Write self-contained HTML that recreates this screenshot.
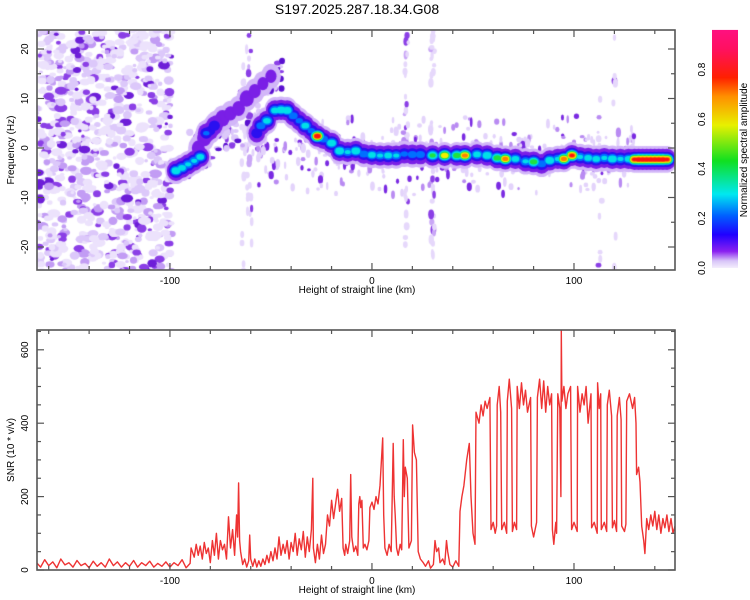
<!DOCTYPE html>
<html><head><meta charset="utf-8"><style>
html,body{margin:0;padding:0;background:#fff;width:750px;height:600px;overflow:hidden}
#wrap{position:relative;width:750px;height:600px;font-family:"Liberation Sans",sans-serif}
canvas{position:absolute}
svg{position:absolute;left:0;top:0}
text{font-family:"Liberation Sans",sans-serif;fill:#000}
</style></head><body>
<div id="wrap">
<canvas id="heat" width="638" height="240" style="left:37px;top:30px"></canvas>
<svg id="svg" width="750" height="600"></svg>
</div>
<script>
// ---------- data ----------
const xTickLabels=[-100,0,100];
const freqTickLabels=[20,10,0,-10,-20];
const snrTickLabels=[0,200,400,600];
const cbTickLabels=[0.0,0.2,0.4,0.6,0.8];
// ridge of spectrogram: km, frequency (Hz), normalized amplitude
const ridgeKm=[-97,-94,-91,-88,-85,-86,-83,-80,-77,-74,-70,-66,-62,-58,-54,-50,-82,-78,-57,-55,-52,-48,-45,-42,-39,-36,-33,-30,-27,-24,-20,-16,-12,-8,-4,0,4,8,12,16,20,24,30,36,42,46,52,57,62,66,71,76,80,84,88,92,95,99,103,107,111,115,119,123,127,130,132,134,136,138,140,142,144,146];
const ridgeFreq=[-4.6,-4.0,-3.3,-2.6,-1.8,0,2,3.5,5,6,7,8,10,11.5,13,14.5,3,4.5,3,4.5,5.5,7.6,7.7,7.6,6.5,5.5,4.5,3.5,2.4,1.8,1.0,-0.6,-0.8,-0.6,-1.2,-1.4,-1.5,-1.5,-1.5,-1.2,-1.3,-1.3,-1.5,-1.5,-1.5,-1.5,-1.3,-1.5,-2.0,-2.2,-2.2,-2.7,-2.8,-3.2,-2.5,-2.2,-2.2,-1.5,-1.8,-2.0,-2.2,-2.0,-2.2,-2.2,-2.2,-2.3,-2.3,-2.3,-2.3,-2.3,-2.3,-2.3,-2.3,-2.3];
const ridgeAmp=[0.5,0.45,0.4,0.4,0.45,0.12,0.15,0.22,0.14,0.15,0.11,0.12,0.15,0.11,0.1,0.1,0.28,0.25,0.25,0.35,0.45,0.45,0.5,0.5,0.35,0.3,0.45,0.3,0.9,0.35,0.5,0.5,0.4,0.5,0.35,0.45,0.4,0.45,0.4,0.3,0.35,0.35,0.55,0.75,0.6,0.8,0.45,0.5,0.6,0.8,0.45,0.4,0.6,0.35,0.5,0.4,0.8,0.85,0.4,0.45,0.45,0.4,0.5,0.4,0.45,0.85,0.88,0.88,0.88,0.88,0.88,0.88,0.88,0.85];
// SNR profile: [km, SNR]
const snrSeries=[[-166,20],[-164,8],[-162,28],[-160,12],[-158,22],[-156,6],[-154,30],[-152,14],[-150,20],[-148,8],[-146,26],[-144,12],[-142,18],[-140,6],[-138,24],[-136,10],[-134,20],[-132,8],[-130,30],[-128,12],[-126,22],[-124,8],[-122,20],[-120,10],[-118,26],[-116,8],[-114,20],[-112,12],[-110,24],[-108,8],[-106,18],[-104,10],[-102,22],[-100,8],[-98,20],[-96,12],[-94,28],[-92,6],[-90,18],
[-89.5,60],[-88,35],[-87,70],[-86,40],[-85,65],[-84,30],[-83,75],[-82,45],[-81,60],[-80,20],[-79,80],[-78,40],[-77,100],[-76,30],[-75,80],[-74,55],[-73,70],[-72,30],[-71,145],[-70,60],[-69,110],[-68,40],[-67,150],[-66.5,90],[-66,237],[-65.5,80],[-65,50],[-64,15],[-63,30],[-62,8],[-61,25],[-60.5,95],[-60,30],[-59,10],[-58,30],[-57,8],[-56,25],[-55,10],[-54,30],[-53,15],[-52,40],[-51,20],[-50,50],[-49,25],[-48,60],[-47,30],[-46,90],[-45,40],[-44,70],[-43,45],[-42,80],[-41,30],[-40,75],[-39,50],[-38,100],[-37,40],[-36,85],[-35,55],[-34,105],[-33,35],[-32,90],[-31,50],[-30,110],[-29.3,250],[-29,60],[-28,20],[-27,70],[-26,30],[-25,95],[-24,45],[-23,70],[-22,150],[-21,120],[-20,190],[-19,140],[-18,180],[-17,220],[-16,160],[-15,195],[-14.3,60],[-13.5,40],[-13,70],[-12,45],[-11,80],[-10.5,260],[-10,90],[-9,50],[-8,65],[-7,40],[-6.5,180],[-6,200],[-5.5,170],[-5,190],[-4.3,60],[-3.5,70],[-2.5,55],[-1.5,80],[-1,170],[0,185],[1,165],[2,200],[3,180],[4,230],[5.3,360],[5.8,150],[6.4,60],[7.5,40],[8.5,70],[9.5,50],[10.5,345],[11,200],[11.5,150],[12.2,60],[13,40],[14,70],[14.7,55],[15.5,355],[16,200],[16.5,280],[17.5,250],[18.3,60],[19.5,80],[20.1,395],[21,320],[22,300],[22.9,50],[24,30],[25.4,20],[26.5,10],[28,25],[29,5],[30.4,15],[31.2,80],[32,50],[33,60],[33.7,20],[35,30],[36,15],[36.9,80],[37.5,50],[38.6,15],[40,8],[41.5,25],[43,10],[43.6,160],[44.5,200],[45.5,230],[46.9,300],[48.2,345],[49,200],[50,100],[51,70],[51.5,430],[53,400],[54,450],[55,420],[56,460],[57,440],[58.4,470],[58.9,110],[60,130],[61,100],[61.7,120],[62,450],[63,500],[63.7,430],[64.2,110],[65.5,130],[66.7,100],[67,460],[68,520],[69.1,440],[69.5,105],[70.5,130],[71.6,110],[71.9,500],[73,440],[74,510],[75,450],[76,490],[77,430],[78.5,470],[78.9,120],[80,90],[81.5,130],[81.9,470],[83,520],[84,440],[85,515],[86,430],[87,500],[88,450],[88.9,480],[89.3,110],[90,70],[91,130],[91.4,100],[92,480],[93,440],[93.5,200],[93.7,654],[94,460],[95,500],[96,440],[97,480],[98.3,500],[98.8,110],[100,130],[101.6,105],[101.8,500],[103,430],[104,480],[105,450],[106,500],[107,400],[108.4,480],[108.7,115],[110,130],[111.5,100],[111.7,510],[112.5,440],[113.2,480],[113.5,110],[115,130],[116.2,105],[116.5,450],[117.5,490],[118.6,420],[119,115],[120,135],[121.1,105],[121.4,420],[122.5,470],[123.3,410],[123.6,120],[125,105],[125.7,125],[126.1,460],[127.5,480],[129,440],[130,470],[130.7,400],[131,260],[132,280],[132.7,240],[133.5,120],[134.5,80],[135.1,45],[136,140],[137,110],[138,150],[139,120],[140,160],[141,110],[142,150],[143,100],[144,140],[145,115],[146,150],[147,105],[148,140],[149,100],[150,120]];

// ---------- scales ----------
const X0=37,X1=675,TY0=30,TY1=270,BY0=330,BY1=570;
const KMIN=-165.8,KMAX=150;
const xs=km=>X0+(km-KMIN)*(X1-X0)/(KMAX-KMIN);
const yF=f=>148-f*4.95;
const yS=v=>BY1-v*0.367;
const yCB=a=>268-a*248;

// ---------- heatmap ----------
const cv=document.getElementById('heat');const ctx=cv.getContext('2d');
let seed=12345;function rnd(){seed|=0;seed=seed+0x6D2B79F5|0;let t=Math.imul(seed^seed>>>15,1|seed);t=t+Math.imul(t^t>>>7,61|t)^t;return((t^t>>>14)>>>0)/4294967296;}
function blob(x,y,rx,ry,c){ctx.fillStyle=c;ctx.beginPath();ctx.ellipse(x-X0,y-TY0,Math.max(rx,0.5),Math.max(ry,0.5),0,0,Math.PI*2);ctx.fill();}
ctx.filter='blur(0.7px)';
// background noise texture (left region)
const noiseCols=['#ece2fc','#dcc8fa','#c29cf4','#8b3fe6','#6d1ed8'];
const noiseW=[0.45,0.22,0.13,0.13,0.07];
function pick(){let r=rnd(),s=0;for(let i=0;i<noiseW.length;i++){s+=noiseW[i];if(r<s)return noiseCols[i];}return noiseCols[0];}
for(let i=0;i<900;i++){const km=KMIN+rnd()*(-99-KMIN);const f=-25+rnd()*50;const c=pick();const r=1.5+rnd()*2.8;blob(xs(km),yF(f),r*(1+rnd()*0.6),r,c);}
// vertical streaks
function streak(km,n,spread){for(let i=0;i<n;i++){const f=-25+rnd()*50;const c=rnd()<0.75?'#e6d8fb':(rnd()<0.6?'#c9a6f6':'#8b3fe6');blob(xs(km+(rnd()-0.5)*spread),yF(f),1.5+rnd()*1.5,2+rnd()*3,c);}}
streak(-62,40,5);streak(17,30,2);streak(30,40,2);streak(113,10,2);streak(120,8,2);
// scatter around track
for(let i=0;i<380;i++){const km=-60+rnd()*190;const f=-1.5+(rnd()-0.5)*(rnd()<0.5?8:16);const c=rnd()<0.55?'#e3d3fb':(rnd()<0.6?'#b98bf2':'#7a2ae2');blob(xs(km),yF(f),1.2+rnd()*1.5,1.5+rnd()*3.5,c);}
for(let i=0;i<140;i++){const km=-92+rnd()*48;const f=-2+(km+92)*0.32+(rnd()-0.5)*10;const c=rnd()<0.5?'#dcc8fa':(rnd()<0.5?'#8b3fe6':'#5a10d0');blob(xs(km),yF(f),1.5+rnd()*2.5,1.5+rnd()*2.5,c);}
// ridge contour levels
const levels=[0.02,0.08,0.16,0.26,0.38,0.52,0.64,0.76,0.84];
const levelCols=['#d2b6f8','#7a1fe6','#2a10f0','#0070ff','#00e0e8','#20e040','#f0f000','#ff8000','#ff1010'];
const halo=[6,3.5,1,0,0,0,0,0,0];
for(let l=0;l<levels.length;l++){
 for(let i=0;i<ridgeKm.length;i++){
  const a=ridgeAmp[i];if(a<=levels[l])continue;
  const k=Math.pow(1-levels[l]/a,0.8);
  blob(xs(ridgeKm[i]),yF(ridgeFreq[i]),2.5+6*k+halo[l]*0.4,1.5+6*k+halo[l],levelCols[l]);
 }
}
ctx.filter='none';

// ---------- SVG ----------
const NS='http://www.w3.org/2000/svg';const svg=document.getElementById('svg');
function el(tag,attrs,parent){const e=document.createElementNS(NS,tag);for(const k in attrs)e.setAttribute(k,attrs[k]);(parent||svg).appendChild(e);return e;}
function txt(s,x,y,size,rot,anchor){const t=el('text',{x:x,y:y,'font-size':size,'text-anchor':anchor||'middle'});if(rot)t.setAttribute('transform','rotate(-90 '+x+' '+y+')');t.textContent=s;return t;}

let t=txt('S197.2025.287.18.34.G08',357,14,14);


// SNR line
const defs=el('defs',{});const cp=el('clipPath',{id:'bc'},defs);el('rect',{x:X0,y:BY0,width:X1-X0,height:BY1-BY0},cp);
const pts=snrSeries.map(p=>xs(p[0]).toFixed(1)+','+yS(p[1]).toFixed(1)).join(' ');
const line=el('polyline',{points:pts,fill:'none',stroke:'#ee3333','stroke-width':1.4,'stroke-linejoin':'round','clip-path':'url(#bc)'});


function frame(y0,y1,name){const r=el('rect',{x:X0,y:y0,width:X1-X0,height:y1-y0,fill:'none',stroke:'#555','stroke-width':1.6});
 for(let km=-160;km<=140;km+=20){const x=xs(km);const L=(km%100===0)?7:4;el('line',{x1:x,y1:y0,x2:x,y2:y0+L,stroke:'#555','stroke-width':1.2});el('line',{x1:x,y1:y1,x2:x,y2:y1-L,stroke:'#555','stroke-width':1.2});}
 for(const v of xTickLabels){const tt=txt(String(v),xs(v),y1+14,10);}
 const xt=txt('Height of straight line (km)',357,y1+23,10);
}
frame(TY0,TY1,'spectrogram-frame');frame(BY0,BY1,'snr-frame');
// top y ticks
for(let f=-20;f<=20;f+=5){const y=yF(f);const L=(f%10===0)?7:4;el('line',{x1:X0,y1:y,x2:X0+L,y2:y,stroke:'#555','stroke-width':1.2});el('line',{x1:X1,y1:y,x2:X1-L,y2:y,stroke:'#555','stroke-width':1.2});}
for(const f of freqTickLabels){const tt=txt(String(f),28,yF(f),10,true);}
t=txt('Frequency (Hz)',14,150,10,true);
// bottom y ticks
for(let v=0;v<=650;v+=50){const y=yS(v);if(y<BY0)continue;const L=(v%200===0)?7:4;el('line',{x1:X0,y1:y,x2:X0+L,y2:y,stroke:'#555','stroke-width':1.2});el('line',{x1:X1,y1:y,x2:X1-L,y2:y,stroke:'#555','stroke-width':1.2});}
for(const v of snrTickLabels){const tt=txt(String(v),28,yS(v),10,true);}
t=txt('SNR (10 * v/v)',14,450,10,true);

// colorbar
const lg=el('linearGradient',{id:'cbg',x1:0,y1:1,x2:0,y2:0},defs);
const stops=[[0,'#f4eefc'],[0.03,'#d8c4f8'],[0.07,'#8a20f0'],[0.14,'#2000ff'],[0.22,'#0060ff'],[0.31,'#00e8f0'],[0.45,'#10e020'],[0.6,'#e8f000'],[0.72,'#ff9000'],[0.8,'#ff2000'],[0.92,'#ff1060'],[1,'#ff1080']];
for(const s of stops)el('stop',{offset:s[0],'stop-color':s[1]},lg);
const cb=el('rect',{x:712,y:yCB(0.96),width:26,height:yCB(0)-yCB(0.96),fill:'url(#cbg)'});

for(const v of cbTickLabels){const tt=txt(v.toFixed(1),705,yCB(v),10,true);}
t=txt('Normalized spectral amplitude',747,150,10,true);
</script>
</body></html>
